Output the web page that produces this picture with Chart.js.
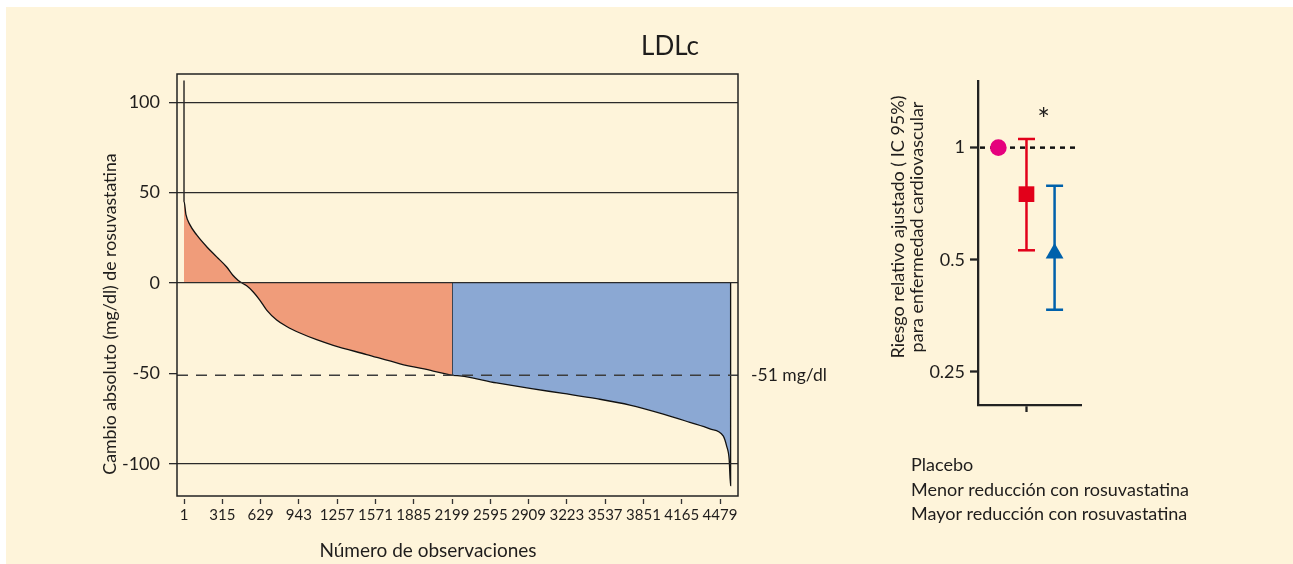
<!DOCTYPE html>
<html>
<head>
<meta charset="utf-8">
<script src="https://cdn.jsdelivr.net/npm/chart.js@4.4.1/dist/chart.umd.min.js"></script>
<style>
  html, body { margin: 0; padding: 0; background: #fff; }
  #wrap { position: relative; width: 1293px; height: 564px; overflow: hidden; }
  #fondo { position: absolute; left: 6px; top: 7px; right: 0; bottom: 0; background: #fef4da; }
  #ldlChart { position: absolute; left: 0; top: 0; }
  #riskChart { position: absolute; left: 860px; top: 0; }
</style>
</head>
<body>
<div id="wrap">
  <div id="fondo"></div>
  <canvas id="ldlChart" width="860" height="564" style="width:860px;height:564px"></canvas>
  <canvas id="riskChart" width="433" height="564" style="width:433px;height:564px"></canvas>
</div>
<script>
// ---- datos: cambio de LDLc por observación ----
const xTickLabels = [1, 315, 629, 943, 1257, 1571, 1885, 2199, 2595, 2909, 3223, 3537, 3851, 4165, 4479];
const yTickValues = [100, 50, 0, -50, -100];
const medianaCambio = -51;

// menor reducción (naranja)
const menorObs = [1, 1, 17, 50, 105, 187, 269, 351, 400, 446, 490, 515, 569, 624, 679, 761, 843, 952, 1089, 1225, 1499, 1772, 2045, 2199];
const menorCambio = [112, 45.3, 37.8, 32.2, 26.6, 20.1, 14.5, 8.9, 4.5, 1.5, -0.5, -1.5, -4.9, -9.5, -14.9, -20.4, -24.0, -27.6, -31.3, -34.4, -39.5, -44.6, -48.6, -51];

// mayor reducción (azul)
const mayorObs = [2199, 2199, 2647, 2920, 3193, 3467, 3740, 4014, 4232, 4396, 4505, 4533, 4554, 4566, 4566];
const mayorCambio = [0, -51, -55.2, -58.2, -61.0, -63.9, -67.4, -72.4, -77.0, -80.6, -84.5, -90, -97.3, -112, 0];

// ---- datos: riesgo relativo ----
const grupos = ['Placebo', 'Menor reducción con rosuvastatina', 'Mayor reducción con rosuvastatina'];
const grupoPos = [0, 1, 2];
const riesgo = [1, 0.75, 0.52];
const icInf = [null, 0.53, 0.367];
const icSup = [null, 1.055, 0.79];
const colores = ['#e5007d', '#e2001a', '#0061ab'];
const marcadores = ['circle', 'rect', 'triangle'];
const radios = [8.3, 11.1, 10.3];
const riskTicks = [1, 0.5, 0.25];

const FUENTE = 'Lato, "Noto Sans", sans-serif';
const TEXTO = '#1f1d1c';

// los ticks del eje x van equiespaciados, pasar nº de observación a posición
function obsToPos(obs) {
  const n = xTickLabels.length;
  let i = 0;
  while (i < n - 2 && obs > xTickLabels[i + 1]) i++;
  const a = xTickLabels[i], b = xTickLabels[i + 1];
  return i + (obs - a) / (b - a);
}

const xMin = -0.183, xMax = 14.47;
const yMin = -117.7, yMax = 115.6;

// marco y textos del gráfico izquierdo
const marcoLdl = {
  id: 'marcoLdl',
  afterDraw(chart) {
    const ctx = chart.ctx;
    const a = chart.chartArea;
    ctx.save();
    ctx.strokeStyle = '#222';
    ctx.lineWidth = 1.5;
    ctx.strokeRect(a.left, a.top, a.right - a.left, a.bottom - a.top);

    ctx.fillStyle = TEXTO;
    ctx.textBaseline = 'alphabetic';
    ctx.textAlign = 'center';
    ctx.font = '26px ' + FUENTE;
    ctx.fillText('LDLc', 670, 55);

    ctx.font = '19px ' + FUENTE;
    ctx.fillText('Número de observaciones', 428, 557);

    ctx.font = '17.5px ' + FUENTE;
    ctx.textAlign = 'left';
    ctx.textBaseline = 'middle';
    ctx.fillText('-51 mg/dl', 751, chart.scales.y.getPixelForValue(medianaCambio));

    ctx.font = '17.7px ' + FUENTE;
    ctx.translate(116, 314);
    ctx.rotate(-Math.PI / 2);
    ctx.textAlign = 'center';
    ctx.textBaseline = 'alphabetic';
    ctx.fillText('Cambio absoluto (mg/dl) de rosuvastatina', 0, 0);
    ctx.restore();
  }
};

const ldlChart = new Chart(document.getElementById('ldlChart'), {
  type: 'line',
  data: {
    datasets: [
      {
        label: 'mediana',
        data: [{ x: xMin, y: medianaCambio }, { x: xMax, y: medianaCambio }],
        borderColor: '#3d3d3d',
        borderWidth: 1.5,
        borderDash: [11, 8],
        pointRadius: 0,
        fill: false
      },
      {
        label: 'Menor reducción',
        data: menorObs.map((o, i) => ({ x: obsToPos(o), y: menorCambio[i] })),
        borderColor: '#111',
        borderWidth: 1.3,
        backgroundColor: '#f09c7a',
        fill: 'origin',
        pointRadius: 0,
        cubicInterpolationMode: 'monotone'
      },
      {
        label: 'Mayor reducción',
        data: mayorObs.map((o, i) => ({ x: obsToPos(o), y: mayorCambio[i] })),
        borderColor: '#111',
        borderWidth: 1.3,
        backgroundColor: '#8ba8d3',
        fill: 'origin',
        pointRadius: 0,
        cubicInterpolationMode: 'monotone'
      }
    ]
  },
  options: {
    responsive: false,
    animation: false,
    layout: { padding: { left: 0, top: 74, right: 122, bottom: 0 } },
    plugins: { legend: { display: false }, tooltip: { enabled: false } },
    scales: {
      x: {
        type: 'linear',
        min: xMin,
        max: xMax,
        afterBuildTicks: s => { s.ticks = xTickLabels.map((_, i) => ({ value: i })); },
        afterFit: s => { s.height = 68; },
        ticks: {
          callback: (v, i) => String(xTickLabels[i]),
          font: { family: FUENTE, size: 15 },
          color: TEXTO,
          padding: 2,
          maxRotation: 0,
          autoSkip: false
        },
        grid: {
          drawOnChartArea: false,
          tickLength: 8,
          tickColor: '#333',
          tickWidth: 1.3,
          tickBorderDash: [0, 3, 5, 100]
        },
        border: { display: false }
      },
      y: {
        min: yMin,
        max: yMax,
        afterBuildTicks: s => { s.ticks = yTickValues.map(v => ({ value: v })); },
        afterFit: s => { s.width = 177; },
        ticks: {
          font: { family: FUENTE, size: 18 },
          color: TEXTO,
          padding: 9
        },
        grid: {
          z: 1,
          color: c => (c.tick && c.tick.value === -50) ? 'rgba(0,0,0,0)' : '#2a2a2a',
          lineWidth: 1.3,
          tickColor: '#2a2a2a',
          tickLength: 8
        },
        border: { display: false }
      }
    }
  },
  plugins: [marcoLdl]
});

// línea de referencia, asterisco y textos del gráfico derecho
const textosRiesgo = {
  id: 'textosRiesgo',
  beforeDatasetsDraw(chart) {
    const ctx = chart.ctx;
    const a = chart.chartArea;
    const y = chart.scales.y.getPixelForValue(1);
    ctx.save();
    ctx.strokeStyle = '#111';
    ctx.lineWidth = 2.5;
    ctx.setLineDash([5, 5]);
    ctx.beginPath();
    ctx.moveTo(a.left + 2, y);
    ctx.lineTo(a.right - 6, y);
    ctx.stroke();
    ctx.restore();
  },
  afterDraw(chart) {
    const ctx = chart.ctx;
    ctx.save();
    ctx.fillStyle = TEXTO;

    // asterisco centrado en su caja
    ctx.font = '30px ' + FUENTE;
    ctx.textAlign = 'center';
    ctx.textBaseline = 'alphabetic';
    const m = ctx.measureText('*');
    const cy = 111.7;
    ctx.fillText('*', chart.scales.x.getPixelForValue(1.5) + 3, cy + (m.actualBoundingBoxAscent - m.actualBoundingBoxDescent) / 2);

    // leyenda
    ctx.font = '18px ' + FUENTE;
    ctx.textAlign = 'left';
    const bases = [471, 496, 520];
    grupos.forEach((g, i) => ctx.fillText(g, 51, bases[i]));

    // título eje y
    ctx.font = '18px ' + FUENTE;
    ctx.translate(0, 227);
    ctx.rotate(-Math.PI / 2);
    ctx.textAlign = 'center';
    ctx.fillText('Riesgo relativo ajustado ( IC 95%)', 0, 44);
    ctx.fillText('para enfermedad cardiovascular', 0, 63);
    ctx.restore();
  }
};

const barrasError = grupoPos
  .map((p, i) => ({ p, i }))
  .filter(o => icInf[o.i] !== null)
  .map(o => ({
    label: 'IC ' + grupos[o.i],
    data: [{ x: o.p, y: icInf[o.i] }, { x: o.p, y: icSup[o.i] }],
    showLine: true,
    borderColor: colores[o.i],
    borderWidth: 2.5,
    pointStyle: 'line',
    pointRadius: 8.5,
    pointBorderWidth: 2.5,
    pointBorderColor: colores[o.i]
  }));

const riskChart = new Chart(document.getElementById('riskChart'), {
  type: 'scatter',
  data: {
    datasets: [
      {
        label: 'Riesgo relativo',
        data: grupoPos.map((p, i) => ({ x: p, y: riesgo[i] })),
        pointStyle: marcadores,
        pointRadius: radios,
        backgroundColor: colores,
        borderColor: colores,
        borderWidth: 0
      },
      ...barrasError
    ]
  },
  options: {
    responsive: false,
    animation: false,
    layout: { padding: { left: 0, top: 81, right: 212, bottom: 0 } },
    plugins: { legend: { display: false }, tooltip: { enabled: false } },
    scales: {
      x: {
        type: 'linear',
        min: -0.725,
        max: 2.94,
        afterBuildTicks: s => { s.ticks = [{ value: 1 }]; },
        afterFit: s => { s.height = 159; },
        ticks: { callback: () => '' },
        grid: { drawOnChartArea: false, tickLength: 7, tickColor: '#222', tickWidth: 2.3 },
        border: { display: true, color: '#222', width: 2.3 }
      },
      y: {
        type: 'logarithmic',
        min: 0.2036,
        max: 1.51,
        afterBuildTicks: s => { s.ticks = riskTicks.map(v => ({ value: v })); },
        afterFit: s => { s.width = 118; },
        ticks: {
          callback: v => String(v),
          font: { family: FUENTE, size: 18 },
          color: TEXTO,
          padding: 5
        },
        grid: { drawOnChartArea: false, tickLength: 8, tickColor: '#222', tickWidth: 2.3 },
        border: { display: true, color: '#222', width: 2.3 }
      }
    }
  },
  plugins: [textosRiesgo]
});
</script>
</body>
</html>
